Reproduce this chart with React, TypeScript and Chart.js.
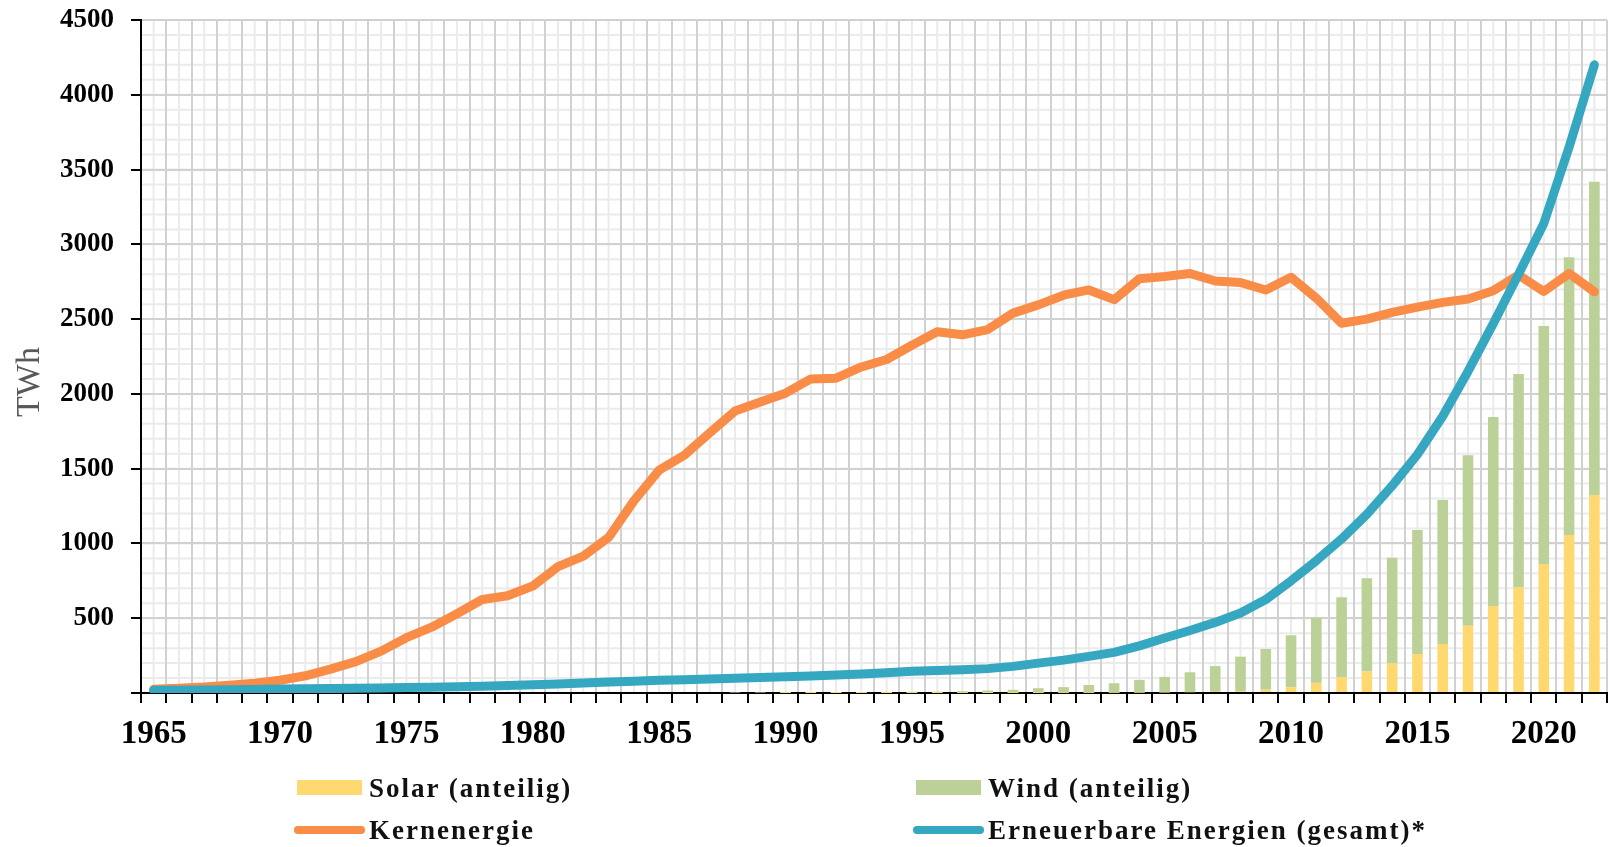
import React, { useEffect, useRef } from 'react';
import { Chart, registerables } from 'chart.js';

Chart.register(...registerables);

const years = [
  1965, 1966, 1967, 1968, 1969, 1970, 1971, 1972, 1973, 1974,
  1975, 1976, 1977, 1978, 1979, 1980, 1981, 1982, 1983, 1984,
  1985, 1986, 1987, 1988, 1989, 1990, 1991, 1992, 1993, 1994,
  1995, 1996, 1997, 1998, 1999, 2000, 2001, 2002, 2003, 2004,
  2005, 2006, 2007, 2008, 2009, 2010, 2011, 2012, 2013, 2014,
  2015, 2016, 2017, 2018, 2019, 2020, 2021, 2022,
];

const solar = [
  0, 0, 0, 0, 0, 0, 0, 0, 0, 0,
  0, 0, 0, 0, 0, 0, 0, 0, 0, 0,
  0, 0, 0, 0, 0, 0.1, 0.1, 0.1, 0.2, 0.2,
  0.3, 0.3, 0.4, 0.5, 0.7, 1, 1.3, 1.7, 2.2, 3,
  4, 5.5, 8, 13, 22, 38, 68, 106, 143, 198,
  261, 328, 450, 582, 707, 862, 1056, 1324,
];

const wind = [
  0, 0, 0, 0, 0, 0, 0, 0, 0, 0,
  0, 0, 0, 0, 0, 0, 0, 0, 0, 0,
  0, 0, 0, 3, 3, 4, 4, 5, 6, 7,
  8, 9, 12, 16, 21, 31, 38, 52, 63, 85,
  104, 133, 172, 230, 272, 348, 436, 534, 624, 707,
  829, 962, 1139, 1263, 1426, 1592, 1857, 2095,
];

const nuclear = [
  25, 32, 40, 52, 65, 85, 115, 160, 210, 280,
  370, 440, 530, 625, 650, 715, 845, 915, 1040, 1285,
  1490, 1590, 1740, 1885, 1945, 2005, 2100, 2105, 2180, 2230,
  2325, 2415, 2395, 2430, 2540, 2595, 2660, 2695, 2630, 2770,
  2785, 2805, 2755, 2745, 2695, 2780, 2640, 2472, 2500, 2545,
  2580, 2612, 2635, 2690, 2795, 2685, 2805, 2683,
];

const renewables = [
  18, 19, 20, 22, 24, 26, 28, 30, 32, 34,
  37, 39, 42, 45, 50, 55, 60, 67, 74, 79,
  85, 88, 93, 98, 103, 108, 114, 120, 127, 136,
  145, 150, 156, 163, 178, 200, 220, 245, 272, 315,
  368, 418, 472, 535, 625, 750, 885, 1030, 1195, 1385,
  1595, 1850, 2150, 2470, 2800, 3140, 3650, 4200,
];

const yTicks = [0, 500, 1000, 1500, 2000, 2500, 3000, 3500, 4000, 4500];
const yMinorStep = 100;

const SERIF = "'Liberation Serif', 'Times New Roman', serif";
const C_SOLAR = '#FFD86F';
const C_WIND = '#BBD198';
const C_NUC = '#F98C47';
const C_REN = '#35A7C1';

const legendItems = [
  { label: 'Solar (anteilig)', color: C_SOLAR, kind: 'box', left: 297, top: 788 },
  { label: 'Wind (anteilig)', color: C_WIND, kind: 'box', left: 916, top: 788 },
  { label: 'Kernenergie', color: C_NUC, kind: 'line', left: 294, top: 830 },
  { label: 'Erneuerbare Energien (gesamt)*', color: C_REN, kind: 'line', left: 913, top: 830 },
];

const minorGrid = {
  id: 'minorGrid',
  beforeDraw(chart: any) {
    const { ctx, chartArea: a, scales } = chart;
    const x = scales.x;
    const y = scales.y;
    ctx.save();
    ctx.strokeStyle = '#ebebeb';
    ctx.lineWidth = 2;
    ctx.beginPath();
    for (let i = 0; i < years.length; i++) {
      const px = x.getPixelForValue(i);
      ctx.moveTo(px, a.top);
      ctx.lineTo(px, a.bottom);
    }
    const maxV = yTicks[yTicks.length - 1];
    for (let v = 0; v <= maxV; v += yMinorStep) {
      const py = y.getPixelForValue(v);
      ctx.moveTo(a.left, py);
      ctx.lineTo(a.right, py);
    }
    ctx.stroke();
    ctx.restore();
  },
};

export default function App() {
  const ref = useRef<HTMLCanvasElement | null>(null);

  useEffect(() => {
    if (!ref.current) return;
    const chart = new Chart(ref.current, {
      type: 'bar',
      data: {
        labels: years.map(String),
        datasets: [
          {
            type: 'line',
            label: 'Erneuerbare Energien (gesamt)*',
            data: renewables,
            borderColor: C_REN,
            backgroundColor: C_REN,
            borderWidth: 9,
            pointRadius: 0,
            tension: 0,
            borderCapStyle: 'round',
            borderJoinStyle: 'round',
            stack: 'ren',
            order: -2,
          } as any,
          {
            type: 'line',
            label: 'Kernenergie',
            data: nuclear,
            borderColor: C_NUC,
            backgroundColor: C_NUC,
            borderWidth: 9,
            pointRadius: 0,
            tension: 0,
            borderCapStyle: 'round',
            borderJoinStyle: 'round',
            stack: 'nuc',
            order: -1,
          } as any,
          {
            type: 'bar',
            label: 'Solar (anteilig)',
            data: solar,
            backgroundColor: C_SOLAR,
            borderWidth: 0,
            barPercentage: 0.42,
            categoryPercentage: 1,
            stack: 'sw',
            order: 1,
          },
          {
            type: 'bar',
            label: 'Wind (anteilig)',
            data: wind,
            backgroundColor: C_WIND,
            borderWidth: 0,
            barPercentage: 0.42,
            categoryPercentage: 1,
            stack: 'sw',
            order: 2,
          },
        ],
      },
      options: {
        responsive: false,
        animation: false,
        devicePixelRatio: 1,
        layout: { padding: { top: 20, right: 1, bottom: 0, left: 0 } },
        plugins: {
          legend: { display: false },
          title: { display: false },
          tooltip: { enabled: false },
        },
        scales: {
          x: {
            stacked: true,
            offset: true,
            grid: {
              offset: true,
              color: '#d1d1d1',
              lineWidth: 2,
              drawTicks: true,
              tickLength: 10,
              tickColor: '#000',
              tickWidth: 2,
            },
            border: { display: true, color: '#000', width: 2 },
            ticks: {
              autoSkip: false,
              maxRotation: 0,
              minRotation: 0,
              padding: 12,
              color: '#000',
              font: { family: SERIF, size: 33, weight: 'bold' },
              callback: (_v: any, i: number) => (years[i] % 5 === 0 ? String(years[i]) : ''),
            },
            afterFit: (s: any) => {
              s.height = 154;
              s.paddingTop = 0;
              s.paddingBottom = 0;
            },
          },
          y: {
            stacked: true,
            min: yTicks[0],
            max: yTicks[yTicks.length - 1],
            afterBuildTicks: (s: any) => {
              s.ticks = yTicks.map((v) => ({ value: v }));
            },
            grid: {
              color: '#d1d1d1',
              lineWidth: 2,
              drawTicks: true,
              tickLength: 10,
              tickColor: '#000',
              tickWidth: 2,
            },
            border: { display: true, color: '#000', width: 2 },
            ticks: {
              padding: 17,
              color: '#000',
              font: { family: SERIF, size: 27, weight: 'bold' },
              callback: (v: any) => (Number(v) === 0 ? '' : String(v)),
            },
            afterFit: (s: any) => {
              s.width = 141;
              s.paddingTop = 0;
              s.paddingBottom = 0;
            },
          },
        },
      },
      plugins: [minorGrid],
    });
    return () => chart.destroy();
  }, []);

  return (
    <div style={{ position: 'fixed', left: 0, top: 0, width: 1608, height: 847, background: '#fff' }}>
      <canvas ref={ref} width={1608} height={847} style={{ display: 'block', width: 1608, height: 847 }} />
      <div
        style={{
          position: 'absolute',
          left: 28 - 60,
          top: 382 - 22,
          width: 120,
          height: 44,
          lineHeight: '44px',
          textAlign: 'center',
          transform: 'rotate(-90deg)',
          fontFamily: SERIF,
          fontSize: 34,
          color: '#595959',
        }}
      >
        TWh
      </div>
      {legendItems.map((it) => (
        <React.Fragment key={it.label}>
          {it.kind === 'box' ? (
            <div
              style={{
                position: 'absolute',
                left: it.left,
                top: it.top - 8,
                width: 65,
                height: 15,
                background: it.color,
              }}
            />
          ) : (
            <div
              style={{
                position: 'absolute',
                left: it.left,
                top: it.top - 4,
                width: 71,
                height: 8,
                borderRadius: 4,
                background: it.color,
              }}
            />
          )}
          <div
            style={{
              position: 'absolute',
              left: it.kind === 'box' ? it.left + 72 : it.left + 75,
              top: it.top - 15,
              lineHeight: '30px',
              fontFamily: SERIF,
              fontSize: 27,
              fontWeight: 'bold',
              letterSpacing: '2px',
              color: '#111',
              whiteSpace: 'nowrap',
            }}
          >
            {it.label}
          </div>
        </React.Fragment>
      ))}
    </div>
  );
}
